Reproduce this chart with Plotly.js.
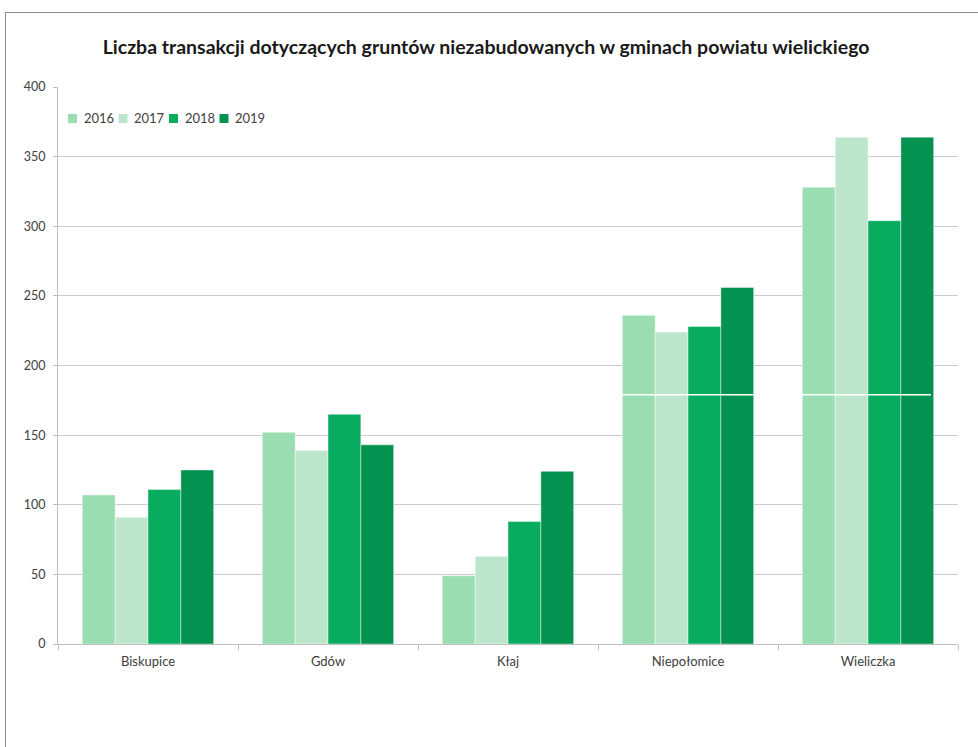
<!DOCTYPE html>
<html>
<head>
<meta charset="utf-8">
<script src="https://cdn.plot.ly/plotly-3.0.1.min.js"></script>
<style>
  html, body { margin: 0; padding: 0; background: #ffffff; }
  #frame {
    position: absolute; left: 5px; top: 12px; width: 980px; height: 760px;
    border-left: 1px solid #8c8c8c; border-top: 1px solid #8c8c8c;
    pointer-events: none;
  }
  #chart { width: 978px; height: 747px; }
</style>
</head>
<body>
<div id="chart"></div>
<div id="frame"></div>
<script>
// Gminy powiatu wielickiego
const gminy = ['Biskupice', 'Gdów', 'Kłaj', 'Niepołomice', 'Wieliczka'];
const lata = ['2016', '2017', '2018', '2019'];

// Liczba transakcji w kolejnych latach
const t2016 = [107, 152, 49, 236, 328];
const t2017 = [91, 139, 63, 224, 364];
const t2018 = [111, 165, 88, 228, 304];
const t2019 = [125, 143, 124, 256, 364];

const kolory = ['#99ddb1', '#bce6cb', '#07ac5f', '#049251'];
const serie = [t2016, t2017, t2018, t2019];

const fontFamily = 'Lato, "Open Sans", sans-serif';

// plot area geometry (pixels)
const W = 978, H = 747;
const M = { l: 58, r: 20, t: 87, b: 103 };
const plotW = W - M.l - M.r;
const plotH = H - M.t - M.b;
const px2x = px => (px - M.l) / plotW;
const px2y = py => (H - M.b - py) / plotH;

const traces = serie.map((vals, i) => ({
  type: 'bar',
  name: lata[i],
  x: gminy,
  y: vals,
  marker: {
    color: kolory[i],
    line: { color: 'rgba(255,255,255,0.55)', width: 0.8 }
  },
  hoverinfo: 'x+y+name'
}));

// compact legend in the upper-left corner of the plot
const legendShapes = [];
const legendNotes = [];
lata.forEach((rok, i) => {
  const cx = 72.5 + 50.5 * i, cy = 118.5, s = 9;
  legendShapes.push({
    type: 'rect', xref: 'paper', yref: 'paper',
    x0: px2x(cx - s / 2), x1: px2x(cx + s / 2),
    y0: px2y(cy + s / 2), y1: px2y(cy - s / 2),
    fillcolor: kolory[i], line: { width: 0 }, layer: 'above'
  });
  legendNotes.push({
    xref: 'paper', yref: 'paper',
    x: px2x(cx + 9), y: px2y(cy),
    xanchor: 'left', yanchor: 'middle',
    text: rok, showarrow: false,
    font: { family: fontFamily, size: 13, color: '#404040' }
  });
});

const layout = {
  width: W,
  height: H,
  paper_bgcolor: '#ffffff',
  plot_bgcolor: '#ffffff',
  margin: M,
  barmode: 'group',
  bargap: 0.27,
  bargroupgap: 0,
  font: { family: fontFamily, color: '#404040', size: 13 },
  title: {
    text: '<b>Liczba transakcji dotyczących gruntów niezabudowanych w gminach powiatu wielickiego</b>',
    font: { family: fontFamily, size: 19.5, color: '#1a1a1a' },
    x: 0.497, xanchor: 'center',
    y: 0.937, yanchor: 'middle'
  },
  xaxis: {
    type: 'category',
    showline: true,
    linecolor: '#bfbfbf',
    linewidth: 1,
    ticks: 'outside',
    tickson: 'boundaries',
    ticklen: 5,
    tickcolor: '#bfbfbf',
    tickfont: { size: 13, color: '#404040' },
    ticklabelstandoff: 5,
    showgrid: false,
    fixedrange: true
  },
  yaxis: {
    range: [0, 400],
    dtick: 50,
    showline: true,
    linecolor: '#bfbfbf',
    linewidth: 1,
    ticks: 'outside',
    ticklen: 4,
    tickcolor: '#bfbfbf',
    showgrid: true,
    gridcolor: '#cccccc',
    gridwidth: 1,
    zeroline: false,
    tickfont: { size: 12.5, color: '#404040' },
    ticklabelstandoff: 5,
    fixedrange: true
  },
  showlegend: false,
  annotations: legendNotes,
  shapes: legendShapes.concat([{
    // thin white seam crossing the tallest bars
    type: 'line', xref: 'paper', yref: 'y',
    x0: 0.62, x1: 0.97, y0: 179, y1: 179,
    line: { color: '#ffffff', width: 1.5 },
    layer: 'above'
  }])
};

Plotly.newPlot('chart', traces, layout, { displayModeBar: false, staticPlot: true });
</script>
</body>
</html>
